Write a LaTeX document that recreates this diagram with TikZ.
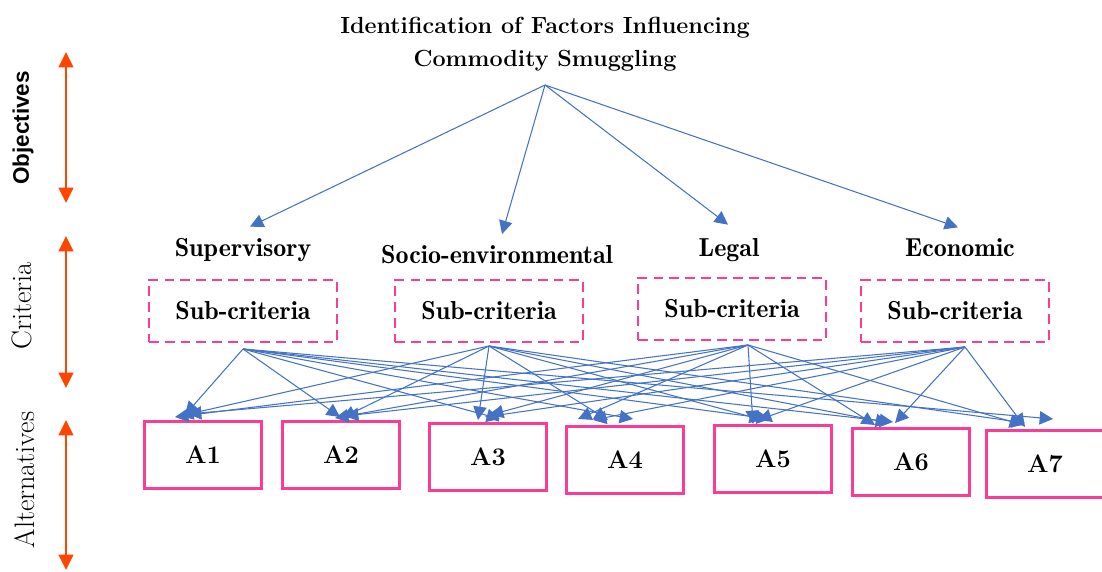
\documentclass[tikz,border=0pt]{standalone}
\usepackage{fontspec}
\usepackage{tikz}
\usetikzlibrary{arrows.meta,calc}
\newfontfamily\sideheadfont{Liberation Sans}
\newfontfamily\critfont{lmromandemi10-regular.otf}
\definecolor{linkblue}{RGB}{68,114,196}
\definecolor{levelred}{RGB}{255,69,0}
\definecolor{boxpink}{RGB}{250,60,150}

\begin{document}
\begin{tikzpicture}[x=0.025cm,y=-0.025cm,
	link/.style={color=linkblue,line width=0.75pt,-{Triangle[length=9.5pt,width=9.5pt]}},
	level/.style={color=levelred,line width=1.3pt,{Triangle[length=11pt,width=10.5pt]}-{Triangle[length=11pt,width=10.5pt]}},
	crit/.style={inner sep=1pt,font=\critfont\fontsize{18.5}{22}\selectfont},
	subbox/.style={draw=boxpink,dash pattern=on 7pt off 4.3pt,line width=1.5pt,minimum width=134pt,minimum height=44pt,font=\critfont\fontsize{18.5}{22}\selectfont},
	altbox/.style={draw=boxpink,line width=1.8pt,minimum width=83pt,minimum height=48pt,font=\bfseries\fontsize{18}{20}\selectfont},
	side/.style={rotate=90,font=\fontsize{20}{22}\selectfont}]
	% page frame
	\useasboundingbox (0,0) rectangle (1102,571);
	% level markers on the left
	\draw[level] (66,52) -- (66,203);
	\draw[level] (66,236) -- (66,388);
	\draw[level] (66,420) -- (66,570);
	\node[side,font=\sideheadfont\bfseries\fontsize{16}{19}\selectfont] (objlabel) at (23,128) {Objectives};
	\node[side] (critlabel) at (22,306) {Criteria};
	\node[side] (altlabel) at (25,480) {Alternatives};
	% the goal
	\node[align=center,inner sep=0pt,font=\bfseries\fontsize{16.6}{23.5}\selectfont] (goal) at (545,44) {Identification of Factors Influencing\\Commodity Smuggling};
	\coordinate (root) at (545,85);
	% the criteria
	\node[crit] (sup) at (243,250) {Supervisory};
	\node[crit] (soc) at (497,255) {Socio-environmental};
	\node[crit] (leg) at (729,250) {Legal};
	\node[crit] (eco) at (960,248) {Economic};
	\draw[link] (root) -- ($(sup.north)+(7,-10)$);
	\draw[link] (root) -- ($(soc.north)+(5,-10)$);
	\draw[link] (root) -- ($(leg.north)+(-1,-12)$);
	\draw[link] (root) -- ($(eco.north)+(-2,-10)$);
	% the sub-criteria
	\node[subbox] (sub1) at (243,311) {Sub-criteria};
	\node[subbox] (sub2) at (489,311) {Sub-criteria};
	\node[subbox] (sub3) at (732,309) {Sub-criteria};
	\node[subbox] (sub4) at (955,311) {Sub-criteria};
	\coordinate (s1) at ($(sub1.south)+(0,6)$);
	\coordinate (s2) at ($(sub2.south)+(0,3)$);
	\coordinate (s3) at ($(sub3.south)+(16,4)$);
	\coordinate (s4) at ($(sub4.south)+(10,4)$);
	% the alternatives
	\node[altbox] (a1) at (203,455) {A1};
	\node[altbox] (a2) at (341,455) {A2};
	\node[altbox] (a3) at (488,457) {A3};
	\node[altbox] (a4) at (625,460) {A4};
	\node[altbox] (a5) at (773,459) {A5};
	\node[altbox] (a6) at (911,462) {A6};
	\node[altbox] (a7) at (1045,464) {A7};
	% every sub-criteria box feeds every alternative
	\begin{scope}[every edge/.style={draw,link}]
	\path (s1) edge ($(a1.north)+(-18,-5)$) edge ($(a2.north)+(-1,-3)$)
		edge ($(a3.north)+(12,-3)$) edge ($(a4.north)+(8,-6)$)
		edge ($(a5.north)+(-3,-5)$) edge ($(a6.north)+(-18,-5)$)
		edge ($(a7.north)+(8,-10)$);
	\path (s2) edge ($(a1.north)+(-23,-4)$) edge ($(a2.north)+(1,-2)$)
		edge ($(a3.north)+(-10,-2)$) edge ($(a4.north)+(-17,-5)$)
		edge ($(a5.north)+(-10,-4)$) edge ($(a6.north)+(-22,-4)$)
		edge ($(a7.north)+(-20,-6)$);
	\path (s3) edge ($(a1.north)+(-28,-3)$) edge ($(a2.north)+(-6,-2)$)
		edge ($(a3.north)+(2,-7)$) edge ($(a4.north)+(-47,-6)$)
		edge ($(a5.north)+(-20,0)$) edge ($(a6.north)+(-36,-2)$)
		edge ($(a7.north)+(-22,-4)$);
	\path (s4) edge ($(a1.north)+(-15,-6)$) edge ($(a2.north)+(4,-4)$)
		edge ($(a3.north)+(-3,-5)$) edge ($(a4.north)+(-32,-5)$)
		edge ($(a5.north)+(-15,-4)$) edge ($(a6.north)+(-16,-4)$)
		edge ($(a7.north)+(-20,-2)$);
	\end{scope}
\end{tikzpicture}
\end{document}
